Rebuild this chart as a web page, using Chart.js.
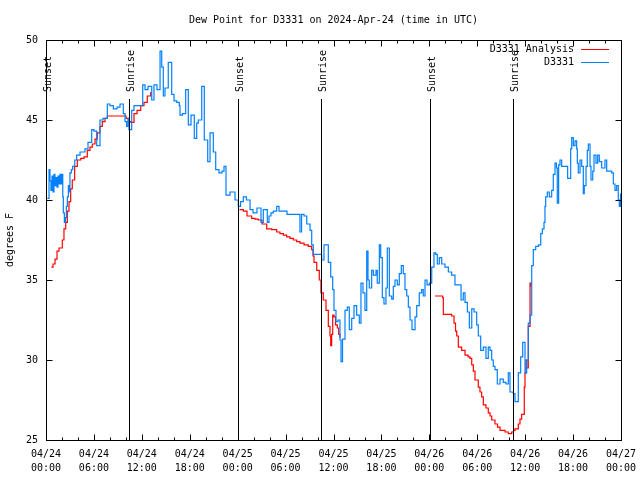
<!DOCTYPE html>
<html><head><meta charset="utf-8">
<script src="https://cdn.jsdelivr.net/npm/chart.js@4/dist/chart.umd.min.js"></script>
<style>html,body{margin:0;padding:0;background:#fff}</style>
</head><body>
<canvas id="c" width="640" height="480"></canvas>
<script>
const TITLE = 'Dew Point for D3331 on 2024-Apr-24 (time in UTC)';
const Y_TITLE = 'degrees F';
const tickDates = ['04/24','04/24','04/24','04/24','04/25','04/25','04/25','04/25','04/26','04/26','04/26','04/26','04/27'];
const tickTimes = ['00:00','06:00','12:00','18:00','00:00','06:00','12:00','18:00','00:00','06:00','12:00','18:00','00:00'];
const sunHours = [0.02, 10.4, 24.05, 34.43, 48.1, 58.47];
const sunLabels = ['Sunset','Sunrise','Sunset','Sunrise','Sunset','Sunrise'];

// hours since 04/24 00:00 UTC, dew point (F)
const analysisSeries = [
[0.66,35.8],[0.88,36.0],[1.13,36.3],[1.38,36.8],[1.63,37.0],[2.04,37.5],[2.25,38.2],[2.47,38.6],[2.67,39.3],[2.88,39.9],
[3.09,40.7],[3.29,41.25],[3.59,42.1],[3.92,42.5],[4.35,42.6],[4.76,42.7],[5.17,43.1],[5.51,43.3],[5.8,43.5],[6.14,43.8],
[6.42,44.2],[6.76,44.6],[7.05,44.9],[7.39,45.1],[7.68,45.25],[9.77,45.25],[10.02,45.1],[10.33,44.9],[10.64,44.85],[11.02,45.4],
[11.4,45.6],[11.86,45.9],[12.27,46.1],[12.68,46.5],[13.11,46.75],[13.3,null],
[24.23,39.4],[24.71,39.3],[25.17,39.0],[25.76,38.85],[26.17,38.8],[26.58,38.75],[27.05,38.5],[27.64,38.2],[28.26,38.15],[28.89,38.0],
[29.3,37.9],[29.72,37.8],[30.14,37.7],[30.55,37.6],[30.97,37.5],[31.39,37.4],[31.8,37.3],[32.31,37.2],[32.84,37.1],[33.27,36.9],
[33.43,36.5],[33.56,36.1],[33.9,35.6],[34.22,35.0],[34.43,34.2],[34.72,33.75],[35.06,33.1],[35.35,32.1],[35.56,31.5],[35.65,30.9],
[35.77,31.6],[35.9,32.8],[36.06,32.7],[36.25,32.2],[36.48,32.0],[36.65,31.6],[36.81,31.4],[37.0,null],
[48.71,34.0],[49.67,33.9],[49.75,32.85],[50.8,32.75],[51.09,32.3],[51.28,31.8],[51.43,31.5],[51.63,30.8],[52.05,30.6],[52.47,30.3],
[52.85,30.2],[53.09,30.1],[53.31,29.7],[53.51,29.3],[53.72,28.75],[54.13,28.3],[54.34,28.0],[54.55,27.7],[54.76,27.2],[55.09,27.0],
[55.38,26.7],[55.6,26.5],[55.81,26.25],[56.22,26.0],[56.54,25.8],[56.85,25.6],[57.48,25.5],[57.89,25.4],[58.1,25.4],[58.31,25.5],
[58.54,25.6],[58.73,25.7],[59.14,26.0],[59.35,26.3],[59.56,26.6],[59.73,26.6],[59.89,28.3],[59.98,29.2],[60.1,30.0],[60.19,29.5],
[60.39,32.1],[60.61,34.8],[60.69,34.6]
];

const observedSeries = [
[0.16,40.1],[0.25,40.1],[0.38,41.9],[0.5,41.2],[0.62,40.6],[0.75,41.5],[0.88,40.5],[1.0,41.6],[1.12,40.9],[1.25,41.4],
[1.38,40.8],[1.5,41.5],[1.62,41.0],[1.75,41.6],[1.88,41.0],[2.0,41.6],[2.1,40.2],[2.17,39.2],[2.3,38.6],[2.45,38.9],
[2.55,39.6],[2.67,40.2],[2.8,40.9],[2.9,40.5],[3.0,41.7],[3.17,41.9],[3.34,42.1],[3.6,42.5],[3.84,42.8],[4.26,43.0],[4.88,43.2],[5.26,43.6],[5.72,44.4],[6.0,44.3],
[6.35,43.4],[6.76,45.0],[7.14,45.1],[7.68,46.0],[8.0,45.9],[8.43,45.7],[8.89,45.8],[9.27,46.0],[9.68,45.4],[9.9,44.9],
[10.1,44.6],[10.27,45.1],[10.39,44.4],[10.73,45.6],[11.02,45.9],[11.52,45.9],[11.98,45.9],[12.11,47.2],[12.4,46.9],[12.77,47.1],
[13.24,46.25],[13.52,47.2],[13.9,46.9],[14.28,49.3],[14.49,48.3],[14.69,46.5],[14.9,47.0],[15.31,48.6],[15.74,46.6],[16.03,46.2],
[16.37,46.1],[16.69,45.9],[16.78,45.3],[17.09,45.4],[17.49,46.9],[17.82,44.7],[18.16,45.3],[18.57,43.85],[18.87,44.8],[19.07,45.0],
[19.5,47.1],[19.82,43.75],[20.25,42.4],[20.54,44.2],[20.95,43.0],[21.25,41.9],[21.66,41.7],[22.04,41.8],[22.29,42.1],[22.54,40.3],
[23.04,40.5],[23.67,40.0],[24.08,39.6],[24.36,39.9],[24.71,40.2],[25.1,40.0],[25.55,39.4],[25.92,39.2],[26.42,39.5],[26.8,39.5],
[26.92,38.6],[27.21,39.4],[27.42,39.4],[27.71,38.6],[27.92,39.0],[28.17,39.2],[28.46,39.3],[28.89,39.6],[29.18,39.3],[29.8,39.3],
[30.18,39.1],[31.59,39.1],[31.8,38.0],[32.0,39.1],[32.31,39.0],[32.65,38.5],[33.06,38.1],[33.27,37.2],[33.47,36.6],[34.06,36.6],
[34.52,36.25],[34.81,37.2],[35.06,37.2],[35.35,36.1],[35.65,35.2],[35.9,34.4],[36.06,33.1],[36.31,32.4],[36.56,32.5],[36.81,31.25],
[36.94,29.9],[37.13,31.3],[37.44,33.1],[37.73,33.3],[37.98,31.9],[38.28,32.6],[38.57,33.4],[38.9,32.8],[39.23,32.3],[39.44,34.8],
[39.69,34.2],[39.94,33.1],[40.16,36.8],[40.32,35.0],[40.48,34.5],[40.78,35.6],[40.99,35.3],[41.32,35.6],[41.48,34.8],[41.74,37.2],
[41.91,36.4],[42.11,33.9],[42.32,33.5],[42.57,34.5],[42.74,37.0],[42.99,34.0],[43.29,33.8],[43.49,34.6],[43.7,35.0],[43.99,34.7],
[44.24,35.4],[44.49,35.9],[44.74,35.4],[44.95,34.4],[45.17,34.0],[45.37,33.3],[45.58,32.5],[45.83,31.9],[45.99,31.9],[46.21,32.7],
[46.42,33.4],[46.74,34.2],[47.04,34.4],[47.24,34.0],[47.46,35.0],[47.71,34.7],[48.0,34.8],[48.3,35.8],[48.58,36.7],[48.8,36.6],
[49.0,36.0],[49.25,36.4],[49.55,36.0],[49.96,35.8],[50.38,35.5],[50.8,35.3],[51.21,34.7],[51.75,34.7],[51.97,33.75],[52.25,34.2],
[52.47,33.6],[52.76,33.0],[53.01,32.0],[53.31,33.2],[53.6,33.0],[53.93,32.2],[54.13,31.5],[54.43,30.6],[54.76,30.8],[55.09,30.1],
[55.38,30.8],[55.6,30.6],[55.81,30.0],[56.01,29.6],[56.22,29.4],[56.51,28.5],[56.85,28.8],[57.26,28.6],[57.6,28.5],[57.89,29.2],
[58.1,28.0],[58.51,27.9],[58.73,27.4],[59.01,27.4],[59.14,29.2],[59.44,30.2],[59.69,31.1],[59.98,29.2],[60.19,30.0],[60.39,32.3],
[60.61,32.8],[60.82,35.9],[61.02,36.9],[61.32,37.1],[61.67,37.2],[61.95,37.9],[62.15,38.2],[62.36,38.6],[62.48,39.6],[62.57,40.2],
[62.77,40.5],[63.02,40.2],[63.32,40.6],[63.52,41.6],[63.74,42.3],[63.92,42.0],[64.02,39.8],[64.19,42.2],[64.36,42.5],[64.57,42.1],
[64.99,42.1],[65.32,41.35],[65.53,41.35],[65.7,43.2],[65.83,43.9],[66.03,43.4],[66.24,43.7],[66.45,43.2],[66.53,42.3],[66.65,41.7],
[66.87,42.5],[67.08,42.1],[67.28,40.4],[67.4,40.9],[67.62,42.1],[67.78,43.1],[67.91,43.5],[68.12,42.1],[68.24,41.25],[68.46,41.8],
[68.62,42.8],[68.87,42.3],[69.08,42.8],[69.28,42.4],[69.58,42.0],[69.99,42.5],[70.21,41.8],[70.84,41.7],[71.04,41.0],[71.25,40.6],
[71.46,40.9],[71.66,40.0],[71.79,39.6],[71.94,40.4]
];

const FONT = "'DejaVu Sans Mono', monospace";
Chart.defaults.font.family = FONT;
Chart.defaults.font.size = 10;
Chart.defaults.color = '#000';

const framePlugin = {
  id: 'frame',
  afterDatasetsDraw(chart) {
    const {ctx, chartArea: a, scales: {x, y}} = chart;
    ctx.save();
    ctx.strokeStyle = '#000';
    ctx.lineWidth = 1;
    const L = a.left + 0.5, R = a.right + 0.5, T = a.top + 0.5, B = a.bottom + 0.5;
    ctx.beginPath();
    for (let h = 0; h <= 72; h += 2) {
      const px = Math.round(x.getPixelForValue(h)) + 0.5;
      const len = (h % 6 === 0) ? 6 : 3;
      ctx.moveTo(px, B); ctx.lineTo(px, B - len);
      ctx.moveTo(px, T); ctx.lineTo(px, T + len);
    }
    for (let v = 25; v <= 50; v += 5) {
      const py = Math.round(y.getPixelForValue(v)) + 0.5;
      ctx.moveTo(L, py); ctx.lineTo(L + 6, py);
      ctx.moveTo(R, py); ctx.lineTo(R - 6, py);
    }
    ctx.stroke();
    ctx.strokeRect(L, T, R - L, B - T);
    ctx.font = '10px ' + FONT;
    ctx.fillStyle = '#000';
    sunHours.forEach((h, i) => {
      const px = Math.round(x.getPixelForValue(h)) + 0.5;
      ctx.beginPath();
      ctx.moveTo(px, 99); ctx.lineTo(px, B);
      ctx.stroke();
      ctx.save();
      ctx.translate(px + 1.5, 92);
      ctx.rotate(-Math.PI / 2);
      ctx.textAlign = 'left';
      ctx.textBaseline = 'middle';
      ctx.fillText(sunLabels[i], 0, 0);
      ctx.restore();
    });
    ctx.textAlign = 'right';
    ctx.textBaseline = 'middle';
    chart.data.datasets.forEach((ds, i) => {
      const yy = 49 + i * 13;
      ctx.fillStyle = '#000';
      ctx.fillText(ds.label, 574, yy);
      ctx.strokeStyle = ds.borderColor;
      ctx.beginPath();
      ctx.moveTo(581, Math.round(yy) + 0.5); ctx.lineTo(609, Math.round(yy) + 0.5);
      ctx.stroke();
    });
    ctx.fillStyle = '#000';
    ctx.textAlign = 'center';
    ctx.fillText(TITLE, (a.left + a.right) / 2, 20);
    ctx.save();
    ctx.translate(10, (a.top + a.bottom) / 2);
    ctx.rotate(-Math.PI / 2);
    ctx.textAlign = 'center';
    ctx.textBaseline = 'middle';
    ctx.fillText(Y_TITLE, 0, 0);
    ctx.restore();
    ctx.restore();
  }
};

new Chart(document.getElementById('c'), {
  type: 'line',
  data: {
    datasets: [
      {label: 'D3331 Analysis', data: analysisSeries.map(p => ({x: p[0], y: p[1]})),
       borderColor: '#ff0000', borderWidth: 1.2, pointRadius: 0, stepped: true, spanGaps: false, fill: false, order: 1},
      {label: 'D3331', data: observedSeries.map(p => ({x: p[0], y: p[1]})),
       borderColor: '#0080ff', borderWidth: 1.2, pointRadius: 0, stepped: true, spanGaps: false, fill: false, order: 0}
    ]
  },
  options: {
    responsive: false, animation: false, devicePixelRatio: 1,
    layout: {padding: {top: 40, right: 19, left: 0, bottom: 0}},
    plugins: {legend: {display: false}, title: {display: false}, tooltip: {enabled: false}},
    scales: {
      x: {type: 'linear', min: 0, max: 72,
          border: {display: false}, grid: {display: false, drawTicks: false},
          ticks: {stepSize: 6, autoSkip: false, maxRotation: 0, padding: 7,
                  font: {family: FONT, size: 10, lineHeight: 1.4},
                  callback: (v, i) => [tickDates[i], tickTimes[i]]},
          afterFit: s => { s.height = 40; s.paddingLeft = 0; s.paddingRight = 0; }},
      y: {min: 25, max: 50,
          border: {display: false}, grid: {display: false, drawTicks: false},
          ticks: {stepSize: 5, padding: 8, font: {family: FONT, size: 10}},
          afterFit: s => { s.width = 46; s.paddingTop = 0; s.paddingBottom = 0; }}
    }
  },
  plugins: [framePlugin]
});
</script>
</body></html>
